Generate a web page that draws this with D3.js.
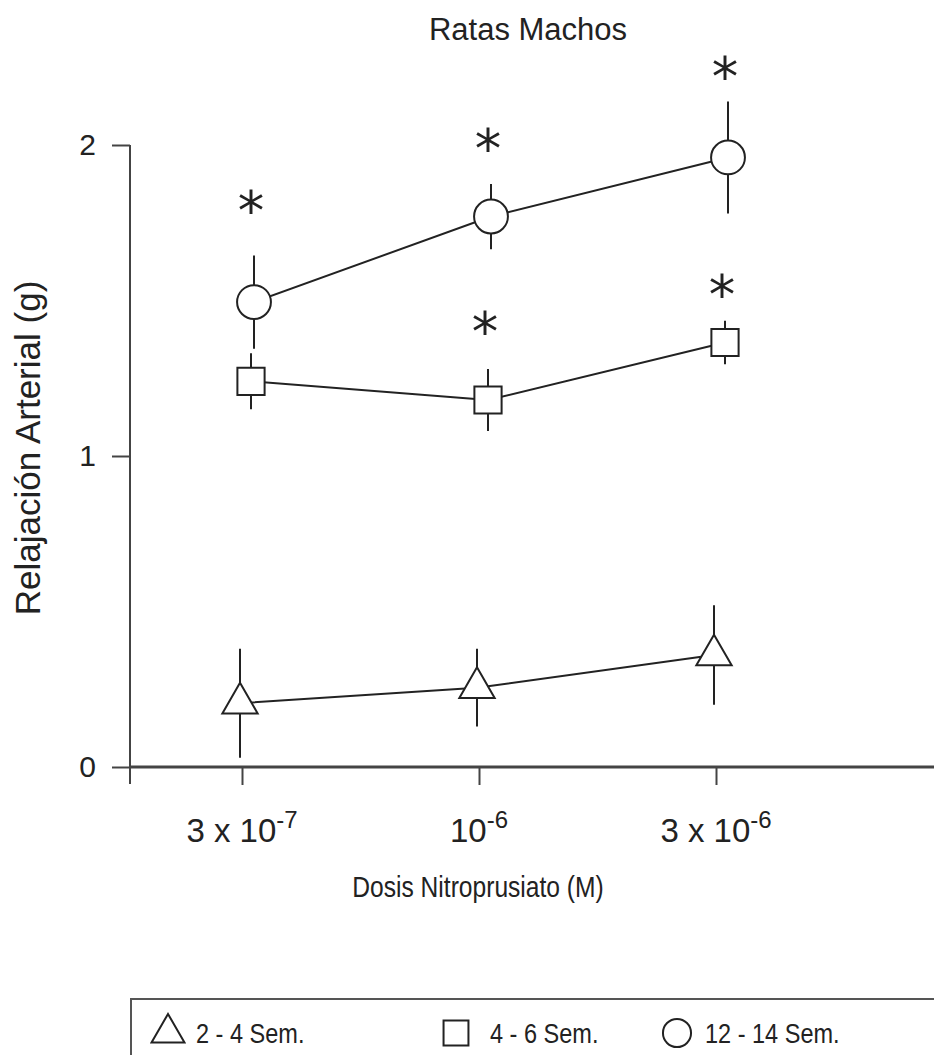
<!DOCTYPE html>
<html>
<head>
<meta charset="utf-8">
<script src="https://cdn.jsdelivr.net/npm/d3@7"></script>
<style>
  body { margin: 0; background: #fff; }
  text { font-family: "Liberation Sans", Arial, Helvetica, sans-serif; fill: #222; }
</style>
</head>
<body>
<svg id="chart" width="934" height="1055"></svg>
<script>
// doses of nitroprusiato (x categories)
var doses = ["3e-7", "1e-6", "3e-6"];
var doseBase = ["3 x 10", "10", "3 x 10"];
var doseExp = ["-7", "-6", "-6"];
var yTicks = [0, 1, 2];

// 2 - 4 semanas (triangles)
var tri = [0.205, 0.255, 0.36];
var triErr = [0.175, 0.125, 0.16];
// 4 - 6 semanas (squares)
var sq = [1.24, 1.18, 1.365];
var sqErr = [0.09, 0.1, 0.07];
// 12 - 14 semanas (circles)
var circ = [1.495, 1.77, 1.96];
var circErr = [0.15, 0.105, 0.18];

// asterisks, value where each one sits
var starSq = [null, 1.44, 1.56];
var starCirc = [1.83, 2.03, 2.26];

var legendLabels = ["2 - 4 Sem.", "4 - 6 Sem.", "12 - 14 Sem."];

var svg = d3.select("#chart");

var x = d3.scalePoint().domain(doses).range([242, 716]);
var y = d3.scaleLinear().domain([0, 2]).range([767, 145]);

// series setup, dx is the small horizontal dodge seen in the figure
var series = [
  { vals: tri, err: triErr, stars: [null, null, null], sym: d3.symbolTriangle, size: 540, dx: -2 },
  { vals: sq, err: sqErr, stars: starSq, sym: d3.symbolSquare, size: 740, dx: 9 },
  { vals: circ, err: circErr, stars: starCirc, sym: d3.symbolCircle, size: 900, dx: 12 }
];

// y axis
var yAxis = d3.axisLeft(y).tickValues(yTicks).tickSize(18).tickPadding(16).tickFormat(d3.format("d"));
var gy = svg.append("g")
  .attr("transform", "translate(130,0)")
  .call(yAxis);
gy.attr("font-size", null).attr("font-family", null);
gy.select(".domain").remove();
gy.selectAll("line").attr("stroke", "#444").attr("stroke-width", 2);
gy.selectAll("text").attr("fill", "#222").style("font-size", "30px");

svg.append("line")
  .attr("x1", 130).attr("x2", 130)
  .attr("y1", y(2)).attr("y2", y(0) + 17)
  .attr("stroke", "#444").attr("stroke-width", 2);

// x axis
var xAxis = d3.axisBottom(x).tickSize(18).tickFormat("");
var gx = svg.append("g")
  .attr("transform", "translate(0," + y(0) + ")")
  .call(xAxis);
gx.select(".domain").remove();
gx.selectAll("line").attr("stroke", "#444").attr("stroke-width", 2);

svg.append("line")
  .attr("x1", 130).attr("x2", 934)
  .attr("y1", y(0)).attr("y2", y(0))
  .attr("stroke", "#444").attr("stroke-width", 3);

var xl = svg.append("g").selectAll("text")
  .data(doses)
  .enter().append("text")
  .attr("x", function(d) { return x(d); })
  .attr("y", 842)
  .attr("text-anchor", "middle")
  .style("font-size", "33px");
xl.append("tspan").text(function(d, i) { return doseBase[i]; });
xl.append("tspan")
  .attr("dy", -14)
  .style("font-size", "24px")
  .text(function(d, i) { return doseExp[i]; });

// titles
svg.append("text")
  .attr("x", 528).attr("y", 40)
  .attr("text-anchor", "middle")
  .style("font-size", "31px")
  .text("Ratas Machos");

svg.append("text")
  .attr("transform", "translate(478,897) scale(0.82,1)")
  .attr("text-anchor", "middle")
  .style("font-size", "30px")
  .text("Dosis Nitroprusiato (M)");

svg.append("text")
  .attr("transform", "translate(40,448) rotate(-90)")
  .attr("text-anchor", "middle")
  .style("font-size", "35px")
  .text("Relajación Arterial (g)");

// data
series.forEach(function(s) {
  var px = function(i) { return x(doses[i]) + s.dx; };
  var g = svg.append("g");

  g.selectAll(".err")
    .data(s.vals)
    .enter().append("line")
    .attr("x1", function(d, i) { return px(i); })
    .attr("x2", function(d, i) { return px(i); })
    .attr("y1", function(d, i) { return y(d + s.err[i]); })
    .attr("y2", function(d, i) { return y(d - s.err[i]); })
    .attr("stroke", "#222").attr("stroke-width", 2);

  var line = d3.line()
    .x(function(d, i) { return px(i); })
    .y(function(d) { return y(d); });
  g.append("path")
    .datum(s.vals)
    .attr("d", line)
    .attr("fill", "none")
    .attr("stroke", "#222").attr("stroke-width", 2);

  g.selectAll(".mark")
    .data(s.vals)
    .enter().append("path")
    .attr("d", d3.symbol(s.sym, s.size))
    .attr("transform", function(d, i) { return "translate(" + px(i) + "," + y(d) + ")"; })
    .attr("fill", "#fff")
    .attr("stroke", "#222").attr("stroke-width", 2);

  var st = [];
  s.stars.forEach(function(v, i) { if (v != null) st.push({ v: v, i: i }); });
  g.selectAll(".star")
    .data(st)
    .enter().append("text")
    .attr("x", function(d) { return px(d.i) - 3; })
    .attr("y", function(d) { return y(d.v) + 31; })
    .attr("text-anchor", "middle")
    .style("font-family", "'DejaVu Sans', sans-serif")
    .style("font-size", "53px")
    .text("*");
});

// legend
svg.append("rect")
  .attr("x", 131).attr("y", 999)
  .attr("width", 840).attr("height", 100)
  .attr("fill", "none")
  .attr("stroke", "#555").attr("stroke-width", 2);

var legX = [168, 456, 677];
var legTx = [28, 34, 28];
var legSym = [[d3.symbolTriangle, 470], [d3.symbolSquare, 620], [d3.symbolCircle, 620]];
var leg = svg.append("g").selectAll("g")
  .data(legendLabels)
  .enter().append("g")
  .attr("transform", function(d, i) { return "translate(" + legX[i] + ",1033)"; });
leg.append("path")
  .attr("d", function(d, i) { return d3.symbol(legSym[i][0], legSym[i][1])(); })
  .attr("fill", "#fff")
  .attr("stroke", "#222").attr("stroke-width", 2);
leg.append("text")
  .attr("transform", function(d, i) { return "translate(" + legTx[i] + ",10) scale(0.84,1)"; })
  .style("font-size", "28px")
  .text(function(d) { return d; });
</script>
</body>
</html>
